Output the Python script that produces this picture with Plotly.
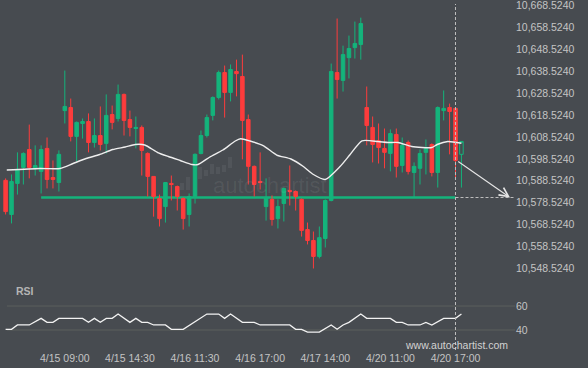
import plotly.graph_objects as go

# ---------------- data ----------------
candle_idx = list(range(1, 79))
open_ = [10588.7, 10573.1, 10587.3, 10594.6, 10602.8, 10594.2, 10592.8, 10603.3, 10590.0, 10587.7,
         10620.6, 10622.0, 10608.8, 10614.7, 10615.6, 10606.0, 10609.2, 10605.6, 10618.8, 10617.0,
         10628.0, 10616.5, 10612.4, 10612.9, 10601.0, 10590.5, 10580.4, 10576.7, 10587.3, 10585.9,
         10580.4, 10573.1, 10581.3, 10601.0, 10609.2, 10618.4, 10626.6, 10638.0, 10628.9, 10638.5,
         10636.2, 10616.5, 10595.1, 10588.2, 10576.7, 10580.0, 10571.2, 10578.1, 10584.1, 10583.6,
         10580.0, 10566.2, 10561.2, 10553.9, 10562.1, 10579.5, 10638.0, 10634.4, 10644.8, 10649.4,
         10650.8, 10622.0, 10612.9, 10606.9, 10603.3, 10601.0, 10609.7, 10595.5, 10606.0, 10592.3,
         10594.2, 10601.5, 10605.1, 10592.3, 10620.6, 10622.0, 10621.6, 10600.6]
high = [10589.6, 10591.4, 10601.5, 10601.5, 10614.2, 10604.7, 10604.7, 10608.3, 10597.8, 10602.4,
        10638.9, 10626.1, 10615.6, 10617.0, 10619.3, 10617.0, 10622.5, 10628.0, 10622.9, 10632.5,
        10628.4, 10620.6, 10617.9, 10613.8, 10601.5, 10590.5, 10582.2, 10587.7, 10590.9, 10586.3,
        10580.9, 10582.7, 10601.0, 10611.5, 10618.8, 10627.1, 10638.9, 10641.2, 10641.7, 10643.9,
        10646.2, 10618.8, 10595.5, 10601.5, 10589.6, 10581.8, 10580.0, 10585.4, 10595.5, 10584.1,
        10580.4, 10569.4, 10565.3, 10567.6, 10580.0, 10642.1, 10662.7, 10650.3, 10654.9, 10661.3,
        10663.1, 10631.6, 10617.9, 10614.7, 10612.4, 10612.0, 10612.4, 10608.3, 10606.9, 10596.9,
        10602.8, 10607.4, 10605.6, 10622.5, 10629.8, 10623.8, 10622.0, 10606.5]
low = [10573.1, 10569.0, 10582.2, 10586.8, 10589.6, 10590.9, 10582.7, 10585.0, 10585.0, 10583.6,
       10614.7, 10606.5, 10597.3, 10607.8, 10601.5, 10603.7, 10602.4, 10601.0, 10612.0, 10615.6,
       10609.2, 10608.8, 10603.3, 10590.9, 10581.3, 10572.1, 10567.6, 10569.4, 10579.5, 10574.9,
       10566.2, 10567.6, 10578.1, 10600.6, 10608.3, 10616.1, 10625.7, 10617.4, 10624.8, 10627.1,
       10598.3, 10586.8, 10581.3, 10584.5, 10570.3, 10568.0, 10566.7, 10569.9, 10577.2, 10574.9,
       10563.0, 10559.4, 10548.4, 10553.0, 10558.0, 10579.1, 10626.1, 10629.3, 10635.3, 10644.4,
       10643.9, 10604.7, 10596.9, 10596.4, 10594.2, 10592.8, 10590.0, 10592.3, 10591.4, 10580.9,
       10586.8, 10591.4, 10590.5, 10585.4, 10616.1, 10600.6, 10589.6, 10585.4]
close = [10574.4, 10588.2, 10593.7, 10601.0, 10594.6, 10595.5, 10602.8, 10589.1, 10589.1, 10600.6,
         10622.5, 10608.8, 10615.2, 10615.6, 10606.0, 10609.2, 10605.1, 10618.4, 10615.2, 10628.0,
         10616.1, 10612.9, 10612.9, 10602.4, 10590.5, 10581.3, 10571.2, 10587.7, 10586.8, 10581.3,
         10571.2, 10581.3, 10600.6, 10609.2, 10617.4, 10626.6, 10638.0, 10628.9, 10639.4, 10637.5,
         10616.1, 10595.1, 10586.8, 10587.7, 10580.9, 10570.8, 10576.7, 10585.0, 10583.6, 10581.3,
         10565.8, 10561.2, 10553.9, 10562.5, 10579.5, 10638.5, 10634.8, 10646.2, 10649.0, 10651.3,
         10660.4, 10613.8, 10605.1, 10603.7, 10601.5, 10610.1, 10595.1, 10604.7, 10592.8, 10595.1,
         10601.0, 10603.3, 10592.3, 10622.0, 10621.6, 10620.2, 10597.8, 10606.5]

ma_x = [1.2, 6.8, 10.2, 12.4, 14.6, 16.9, 19.1, 21.2, 22.9, 24.5, 26.7, 28.5, 30.5, 32.5, 33.5,
        35.5, 37.7, 39.8, 40.7, 42.3, 44.5, 46.8, 49.2, 51.3, 53.0, 55.0, 57.5, 59.2, 61.2, 63.9,
        65.6, 67.3, 69.6, 73.0, 73.9, 75.7, 78.0]
ma_y = [10593.43, 10594.12, 10594.12, 10596.40, 10598.69, 10600.52, 10602.80, 10603.95, 10605.09,
        10604.86, 10601.43, 10599.60, 10597.77, 10595.94, 10595.94, 10599.37, 10602.57, 10606.69,
        10607.70, 10606.69, 10604.63, 10600.29, 10598.46, 10595.03, 10591.37, 10589.09, 10595.03,
        10600.52, 10606.78, 10606.46, 10606.00, 10606.00, 10604.17, 10603.71, 10605.09, 10606.46,
        10605.68]

rsi_x = [1, 2, 3, 5, 7, 8, 9, 10, 14, 15, 16, 17, 18, 19, 20, 21, 22, 23, 24, 25, 26, 28, 29, 31,
         35, 37, 38, 39, 41, 43, 44, 49, 50, 51, 52, 54, 56, 57, 58, 59, 61, 62, 66, 67, 68, 69,
         71, 72, 73, 75, 77, 78]
rsi_y = [40.6, 40.6, 44.2, 44.2, 49.7, 46.4, 46.4, 49.7, 49.7, 46.4, 49.7, 46.4, 49.7, 49.7, 53.3,
         49.7, 46.4, 49.7, 46.4, 46.4, 44.2, 44.2, 40.6, 40.6, 53.3, 53.3, 49.7, 53.3, 46.4, 46.4,
         44.2, 44.2, 40.6, 40.6, 38.3, 38.3, 44.2, 40.6, 44.2, 46.4, 53.3, 49.7, 49.7, 46.4, 46.4,
         44.2, 44.2, 46.4, 44.2, 49.7, 49.7, 53.3]
rsi_levels = [40, 60]

tick_idx = [11, 22, 33, 44, 55, 66, 77]
tick_labels = ["4/15 09:00", "4/15 14:30", "4/16 11:30", "4/16 17:00",
               "4/17 14:00", "4/20 11:00", "4/20 17:00"]

support_level = 10580.86
support_start = 7
current_idx = 77
arrow_from = (77.2, 10597.77)
arrow_to = (86.2, 10580.86)

# ---------------- style ----------------
BG = "#474b50"
GREEN = "#14b37b"
RED = "#fd3c3c"
TXT = "#c4c4c4"
W, H = 588, 368
XR = [0.054, 87.05]
YR = [10545.42, 10671.17]

fig = go.Figure()

fig.add_trace(go.Candlestick(
    x=candle_idx[:-1], open=open_[:-1], high=high[:-1], low=low[:-1], close=close[:-1],
    increasing=dict(line=dict(color=GREEN, width=1), fillcolor=GREEN),
    decreasing=dict(line=dict(color=RED, width=1), fillcolor=RED),
    whiskerwidth=0, showlegend=False, hoverinfo="skip", xaxis="x", yaxis="y"))

fig.add_trace(go.Candlestick(
    x=candle_idx[-1:], open=open_[-1:], high=high[-1:], low=low[-1:], close=close[-1:],
    increasing=dict(line=dict(color=GREEN, width=1), fillcolor=BG),
    decreasing=dict(line=dict(color=RED, width=1), fillcolor=BG),
    whiskerwidth=0, showlegend=False, hoverinfo="skip", xaxis="x", yaxis="y"))

fig.add_trace(go.Scatter(x=ma_x, y=ma_y, mode="lines",
                         line=dict(color="#eeeeee", width=1.4, shape="spline", smoothing=0.6),
                         showlegend=False, hoverinfo="skip", xaxis="x", yaxis="y"))

fig.add_trace(go.Scatter(x=rsi_x, y=rsi_y, mode="lines",
                         line=dict(color="#f2f2f2", width=1.3),
                         showlegend=False, hoverinfo="skip", xaxis="x", yaxis="y2"))

for lv in rsi_levels:
    fig.add_shape(type="line", xref="paper", yref="y2", x0=7 / W, x1=515 / W, y0=lv, y1=lv,
                  line=dict(color="#5c605d", width=1), layer="below")

fig.add_shape(type="line", xref="x", yref="y", x0=support_start, x1=current_idx,
              y0=support_level, y1=support_level, line=dict(color=GREEN, width=2.5), layer="below")
fig.add_shape(type="line", xref="x", yref="y", x0=current_idx, x1=XR[1],
              y0=support_level, y1=support_level,
              line=dict(color="#bdbdbd", width=1, dash="3px,2px"))
fig.add_shape(type="line", xref="x", yref="paper", x0=current_idx, x1=current_idx,
              y0=1 - 350 / 348, y1=1 - 4 / 348,
              line=dict(color="#bdbdbd", width=1, dash="3px,2px"))

fig.add_annotation(x=arrow_to[0], y=arrow_to[1], ax=arrow_from[0], ay=arrow_from[1],
                   xref="x", yref="y", axref="x", ayref="y", text="", showarrow=True,
                   arrowhead=5, arrowsize=1.6, arrowwidth=1.1, arrowcolor="#e6e6e6")

def px(xp, yp):
    return xp / W, 1 - yp / 348

wm_bars = [(180, 184, 183, 190), (186, 190, 177, 190), (198, 202, 167, 179), (204, 208, 170, 176),
           (210, 214, 164, 174), (216, 220, 167, 174), (222, 226, 165, 172), (228, 232, 157, 168)]
for x0, x1, y0, y1 in wm_bars:
    a, b = px(x0, y1)
    c, d = px(x1, y0)
    fig.add_shape(type="rect", xref="paper", yref="paper", x0=a, x1=c, y0=b, y1=d,
                  fillcolor="rgba(255,255,255,0.06)", line=dict(width=0), layer="below")
wx, wy = px(270, 185)
fig.add_annotation(x=wx, y=wy, xref="paper", yref="paper", text="autochartist", showarrow=False,
                   font=dict(family="Liberation Sans, Arial", size=22, color="rgba(255,255,255,0.07)"))

rx, ry = px(14, 291)
fig.add_annotation(x=rx, y=ry, xref="paper", yref="paper", text="<b>RSI</b>", showarrow=False,
                   xanchor="left", yanchor="middle",
                   font=dict(family="Liberation Sans, Arial", size=10.5, color="#b5b5b5"))
ux, uy = px(456, 345)
fig.add_annotation(x=ux, y=uy, xref="paper", yref="paper", text="www.autochartist.com",
                   showarrow=False, xanchor="center", yanchor="middle",
                   font=dict(family="Liberation Sans, Arial", size=10.5, color="#d2d2d2"))

fig.update_layout(
    width=W, height=H, paper_bgcolor=BG, plot_bgcolor=BG,
    margin=dict(l=0, r=0, t=0, b=20, pad=0),
    boxgap=0.15,
    showlegend=False,
    font=dict(family="Liberation Sans, Arial", size=10.5, color=TXT),
    xaxis=dict(domain=[0, 515 / W], range=XR, anchor="y2", rangeslider=dict(visible=False),
               tickmode="array", tickvals=tick_idx, ticktext=tick_labels,
               showgrid=False, zeroline=False, showline=False, ticks="", ticklabelstandoff=2,
               tickfont=dict(size=10.5, color=TXT), automargin=False),
    yaxis=dict(domain=[73 / 348, 1], range=YR, side="right", anchor="x",
               tick0=10548.524, dtick=10, tickformat=",.4f", showgrid=False, zeroline=False,
               showline=False, ticks="", ticklabeloverflow="allow",
               tickfont=dict(size=10.5, color=TXT), automargin=False),
    yaxis2=dict(domain=[0, 68 / 348], range=[25, 81.7], side="right", anchor="x",
                tickmode="array", tickvals=rsi_levels, showgrid=False,
                zeroline=False, showline=False, ticks="",
                tickfont=dict(size=10.5, color=TXT), automargin=False),
)

fig.write_html("out.html", config={"displayModeBar": False},
               post_script="document.body.style.margin='0';document.body.style.background='%s';" % BG)
